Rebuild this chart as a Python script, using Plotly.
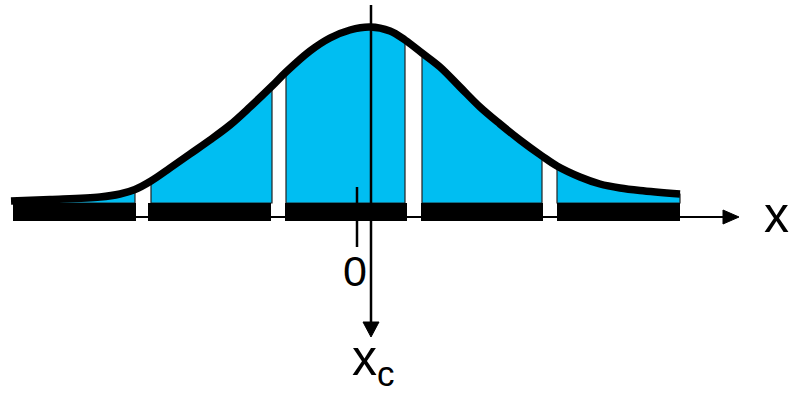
import plotly.graph_objects as go

W, H = 789, 393
BLUE = "#00BEF2"

# Bell curve outline (pixel space, y grows downward)
curve_x = [11, 50, 100, 120, 135, 151, 170, 190, 210, 230, 250, 272, 286, 310, 330, 350, 370,
           390, 405, 422, 440, 460, 480, 500, 520, 542, 557, 580, 600, 620, 640, 680]
curve_y = [201, 199.5, 197, 194, 189.5, 181, 168, 154, 140, 125, 107, 86, 72, 51, 38, 30, 27,
           31, 40, 53, 67, 87, 107, 124, 140, 156, 166, 177, 184, 188, 190.5, 194]

# Blue bins (left/right edges) and black bars under them
bin_left = [13, 151, 286, 422, 557]
bin_right = [135, 272, 405, 542, 680]
bar_left = [13, 148, 285, 421, 557]
bar_right = [136, 271, 407, 543, 680]
base_y = 203
bar_bottom = 221

# axes
haxis_y = 217
haxis_x0, haxis_tip = 13, 739
vaxis_x = 371
vaxis_y0, vaxis_tip = 5, 337
tick_x, tick_y0, tick_y1 = 357, 187, 247

fig = go.Figure()

# blue fills, one per bin
for l, r in zip(bin_left, bin_right):
    xs = [l] + [x for x in curve_x if l < x < r] + [r]
    ys = []
    for x in xs:
        i = min(range(len(curve_x)), key=lambda k: abs(curve_x[k] - x))
        ys.append(curve_y[i])
    px = xs + [r, l, l]
    py = ys + [base_y, base_y, ys[0]]
    fig.add_trace(go.Scatter(x=px, y=py, fill="toself", fillcolor=BLUE, mode="lines",
                             line=dict(color="#222222", width=1.2),
                             hoverinfo="skip", showlegend=False))

# black bars
for l, r in zip(bar_left, bar_right):
    fig.add_shape(type="rect", x0=l, x1=r, y0=base_y, y1=bar_bottom,
                  fillcolor="black", line=dict(width=0), layer="above")

# horizontal axis line + arrow head
fig.add_trace(go.Scatter(x=[haxis_x0, haxis_tip - 14], y=[haxis_y, haxis_y], mode="lines",
                         line=dict(color="black", width=2), hoverinfo="skip", showlegend=False))
fig.add_trace(go.Scatter(x=[haxis_tip - 16, haxis_tip, haxis_tip - 16, haxis_tip - 16],
                         y=[haxis_y - 7, haxis_y, haxis_y + 7, haxis_y - 7],
                         fill="toself", fillcolor="black", mode="lines",
                         line=dict(color="black", width=1), hoverinfo="skip", showlegend=False))

# curve outline
fig.add_trace(go.Scatter(x=curve_x, y=curve_y, mode="lines", line=dict(color="black", width=7.5),
                         line_shape="spline", hoverinfo="skip", showlegend=False))

# vertical axis + arrow head
fig.add_trace(go.Scatter(x=[vaxis_x, vaxis_x], y=[vaxis_y0, vaxis_tip - 14], mode="lines",
                         line=dict(color="black", width=2.5), hoverinfo="skip", showlegend=False))
fig.add_trace(go.Scatter(x=[vaxis_x - 8, vaxis_x, vaxis_x + 8, vaxis_x - 8],
                         y=[vaxis_tip - 15, vaxis_tip, vaxis_tip - 15, vaxis_tip - 15],
                         fill="toself", fillcolor="black", mode="lines",
                         line=dict(color="black", width=1), hoverinfo="skip", showlegend=False))

# zero tick
fig.add_trace(go.Scatter(x=[tick_x, tick_x], y=[tick_y0, tick_y1], mode="lines",
                         line=dict(color="black", width=2.5), hoverinfo="skip", showlegend=False))

FONT = "Liberation Sans"
fig.add_annotation(x=776, y=215, text="x", showarrow=False,
                   font=dict(family=FONT, size=50, color="black"), xanchor="center", yanchor="middle")
fig.add_annotation(x=355, y=271, text="0", showarrow=False,
                   font=dict(family=FONT, size=43, color="black"), xanchor="center", yanchor="middle")
fig.add_annotation(x=373, y=361, text="x<sub>c</sub>", showarrow=False,
                   font=dict(family=FONT, size=50, color="black"), xanchor="center", yanchor="middle")

fig.update_layout(
    width=W, height=H, autosize=False,
    margin=dict(l=0, r=0, t=0, b=0),
    paper_bgcolor="white", plot_bgcolor="white",
    xaxis=dict(range=[0, W], visible=False, fixedrange=True),
    yaxis=dict(range=[H, 0], visible=False, fixedrange=True),
    showlegend=False,
)

fig.write_html("out.html", config={"displayModeBar": False},
               post_script="document.body.style.margin='0';document.body.style.overflow='hidden';")
